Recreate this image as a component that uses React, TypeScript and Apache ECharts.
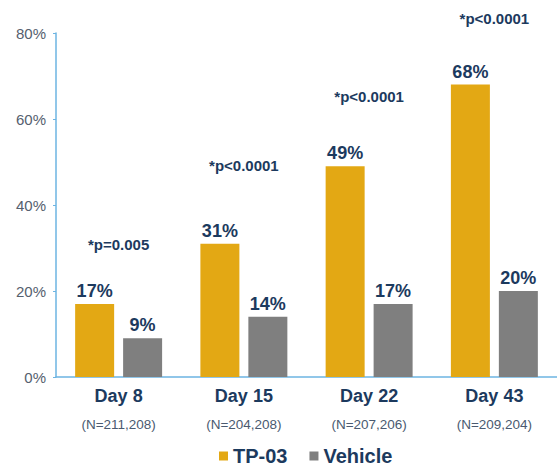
import React, { useEffect, useRef } from "react";
import * as echarts from "echarts";

const days = ["Day 8", "Day 15", "Day 22", "Day 43"];
const nCounts = ["(N=211,208)", "(N=204,208)", "(N=207,206)", "(N=209,204)"];
const tp03 = [17, 31, 49, 68];
const vehicle = [9, 14, 17, 20];
const pValues = ["*p=0.005", "*p<0.0001", "*p<0.0001", "*p<0.0001"];
const pLabelLevel = [30.7, 49.3, 65.3, 83.3];
const yTicks = [0, 20, 40, 60, 80];

const NAVY = "#1c3a5e";
const FONT = "'Liberation Sans', Arial, sans-serif";

export default function App() {
  const ref = useRef<HTMLDivElement>(null);
  useEffect(() => {
    if (!ref.current) return;
    const chart = echarts.init(ref.current, null, { renderer: "svg" });
    chart.setOption({
      animation: false,
      backgroundColor: "#ffffff",
      textStyle: { fontFamily: FONT },
      grid: { left: 56, right: 0, top: 33, bottom: 92 },
      legend: {
        data: ["TP-03", "Vehicle"],
        left: 219,
        top: 446,
        padding: 0,
        icon: "rect",
        itemWidth: 9,
        itemHeight: 9,
        itemGap: 22,
        textStyle: { fontSize: 20, fontWeight: "bold", color: NAVY, fontFamily: FONT },
      },
      xAxis: {
        type: "category",
        data: days,
        axisLine: { lineStyle: { color: "#6cb4e2", width: 1.5 } },
        axisTick: { show: false },
        axisLabel: {
          margin: 8,
          formatter: (v: string, i: number) => `{d|${v}}\n{n|${nCounts[i]}}`,
          rich: {
            d: { fontSize: 18, fontWeight: "bold", color: NAVY, lineHeight: 22, fontFamily: FONT },
            n: { fontSize: 13.5, color: "#4a5a70", lineHeight: 34, fontFamily: FONT },
          },
        },
      },
      yAxis: {
        type: "value",
        min: yTicks[0],
        max: yTicks[yTicks.length - 1],
        interval: 20,
        splitLine: { show: false },
        axisLine: { show: true, lineStyle: { color: "#6cb4e2", width: 1.5 } },
        axisTick: { show: true, length: 3, lineStyle: { color: "#6cb4e2" } },
        axisLabel: { formatter: "{value}%", fontSize: 15, color: "#55606e", margin: 10 },
      },
      series: [
        {
          name: "TP-03",
          type: "bar",
          data: tp03,
          barWidth: 39,
          barGap: "23%",
          itemStyle: { color: "#e3a814" },
          label: {
            show: true,
            position: "top",
            distance: 4,
            formatter: "{c}%",
            fontSize: 18,
            fontWeight: "bold",
            color: NAVY,
            fontFamily: FONT,
          },
        },
        {
          name: "Vehicle",
          type: "bar",
          data: vehicle,
          barWidth: 39,
          itemStyle: { color: "#7f7f7f" },
          label: {
            show: true,
            position: "top",
            distance: 4,
            formatter: "{c}%",
            fontSize: 18,
            fontWeight: "bold",
            color: NAVY,
            fontFamily: FONT,
          },
        },
        {
          name: "p",
          type: "scatter",
          clip: false,
          silent: true,
          symbolSize: 1,
          itemStyle: { color: "rgba(0,0,0,0)", opacity: 1 },
          data: pLabelLevel.map((v, i) => [i, v]),
          label: {
            show: true,
            position: "inside",
            formatter: (p: any) => pValues[p.dataIndex],
            fontSize: 15,
            fontWeight: "bold",
            color: NAVY,
            fontFamily: FONT,
          },
        },
      ],
    });
    return () => chart.dispose();
  }, []);
  return <div ref={ref} style={{ width: 557, height: 469, position: "absolute", left: 0, top: 0 }} />;
}
